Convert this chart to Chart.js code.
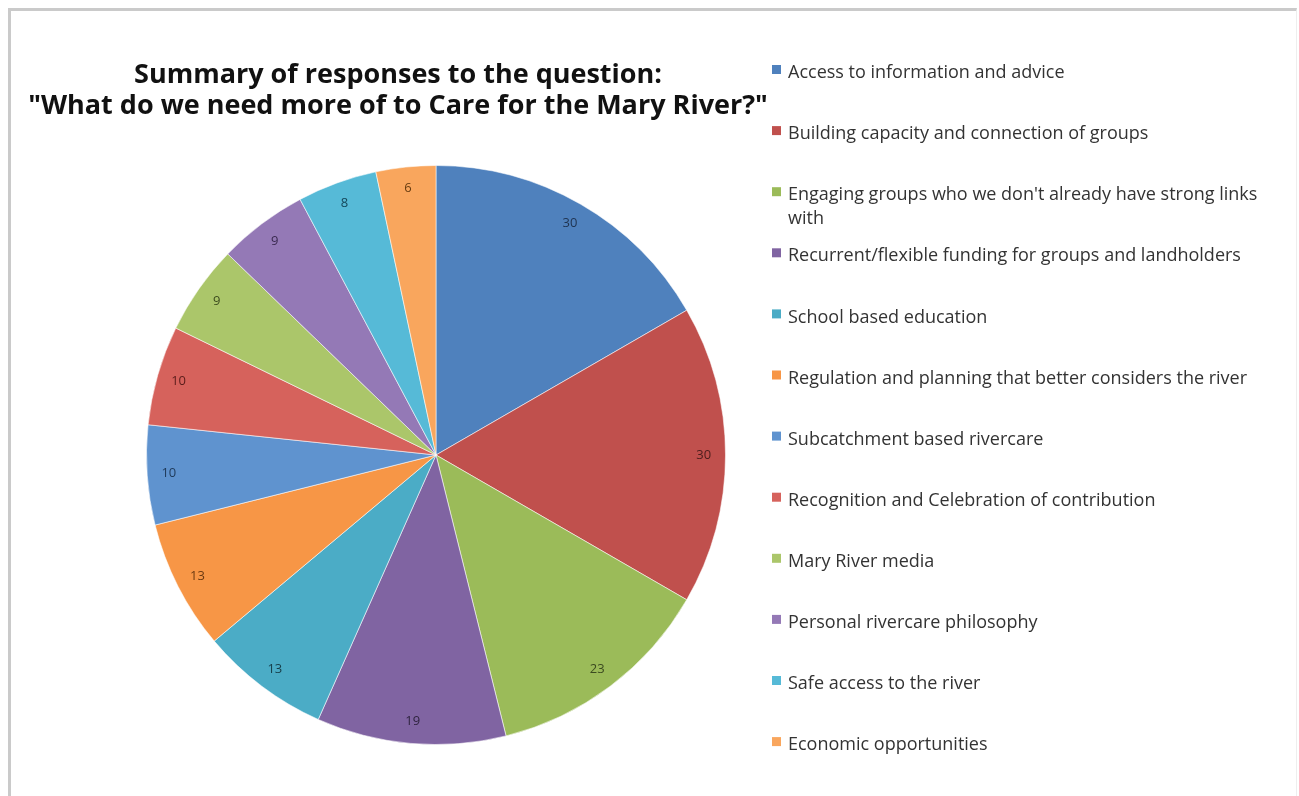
<!DOCTYPE html>
<html>
<head>
<meta charset="utf-8">
<script src="https://cdn.jsdelivr.net/npm/chart.js@4/dist/chart.umd.min.js"></script>
<style>
  body { margin: 0; background: #fff; }
  #wrap { position: relative; width: 1299px; height: 796px; }
  #frame { position: absolute; left: 8px; top: 8px; right: 2px; bottom: -10px;
    border-top: 3px solid #cacaca; border-left: 3px solid #cacaca; border-right: 1px solid #eee; }
  canvas { position: absolute; left: 0; top: 0; }
</style>
</head>
<body>
<div id="wrap">
  <div id="frame"></div>
  <canvas id="myChart" width="1299" height="796"></canvas>
</div>
<script>
const titleLines = [
  'Summary of responses to the question:',
  '"What do we need more of to Care for the Mary River?"',
];

const categories = [
  'Access to information and advice',
  'Building capacity and connection of groups',
  ["Engaging groups who we don't already have strong links", 'with'],
  'Recurrent/flexible funding for groups and landholders',
  'School based education',
  'Regulation and planning that better considers the river',
  'Subcatchment based rivercare',
  'Recognition and Celebration of contribution',
  'Mary River media',
  'Personal rivercare philosophy',
  'Safe access to the river',
  'Economic opportunities',
];

const responses = [30, 30, 23, 19, 13, 13, 10, 10, 9, 9, 8, 6];

const sliceColors = [
  '#4F81BD', '#C0504D', '#9BBB59', '#8064A2', '#4BACC6', '#F79646',
  '#5F93CF', '#D6625C', '#ABC66A', '#9479B6', '#56BAD7', '#F9A65D',
];

const labelColors = [
  '#1f3350', '#4a1d1c', '#3b4a20', '#2f2440', '#173e49', '#6b3a12',
  '#1f3a5a', '#5a1d1b', '#3d4c1f', '#3a2a50', '#15475a', '#6a3e12',
];

const ctx = document.getElementById('myChart');

// values written near the outer edge of each slice, like Excel's "inside end"
const sliceValues = {
  id: 'sliceValues',
  afterDatasetsDraw(chart) {
    const c = chart.ctx;
    const meta = chart.getDatasetMeta(0);
    c.save();
    c.font = '13px "Open Sans", sans-serif';
    c.textAlign = 'center';
    c.textBaseline = 'middle';
    meta.data.forEach((arc, i) => {
      const p = arc.getProps(['x', 'y', 'startAngle', 'endAngle', 'outerRadius']);
      const mid = (p.startAngle + p.endAngle) / 2;
      const r = p.outerRadius * 0.925;
      c.fillStyle = labelColors[i];
      c.fillText(String(responses[i]), p.x + Math.cos(mid) * r, p.y + Math.sin(mid) * r);
    });
    c.restore();
  },
};

// title block above the pie and the legend list on the right
const sideText = {
  id: 'sideText',
  afterDraw(chart) {
    const c = chart.ctx;
    c.save();
    c.fillStyle = '#111';
    c.font = 'bold 27px "Open Sans", sans-serif';
    c.textAlign = 'center';
    c.textBaseline = 'middle';
    titleLines.forEach((t, i) => c.fillText(t, 398, 75 + i * 31));

    c.font = '18px "Open Sans", sans-serif';
    c.textAlign = 'left';
    categories.forEach((lab, i) => {
      const y = 73 + i * 61.1;
      c.fillStyle = sliceColors[i];
      c.fillRect(772, y - 8, 9, 9);
      c.fillStyle = '#333';
      const lines = Array.isArray(lab) ? lab : [lab];
      lines.forEach((l, j) => c.fillText(l, 788, y + j * 24));
    });
    c.restore();
  },
};

new Chart(ctx, {
  type: 'pie',
  data: {
    labels: categories,
    datasets: [
      {
        data: responses,
        backgroundColor: sliceColors,
        borderColor: 'rgba(255, 255, 255, 0.55)',
        borderWidth: 1,
      },
    ],
  },
  options: {
    responsive: false,
    animation: false,
    layout: {
      padding: { left: 146, right: 573, top: 165, bottom: 51 },
    },
    plugins: {
      legend: { display: false },
      tooltip: { enabled: false },
    },
  },
  plugins: [sliceValues, sideText],
});
</script>
</body>
</html>
